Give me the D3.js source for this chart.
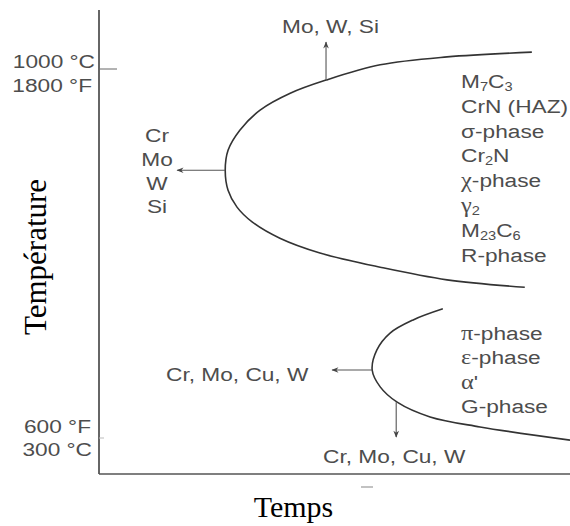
<!DOCTYPE html>
<html><head><meta charset="utf-8">
<script src="https://cdn.jsdelivr.net/npm/d3@7"></script>
<style>body{margin:0;background:#fff}svg{display:block}</style>
</head><body>
<svg id="c" width="570" height="526"></svg>
<script>
// ---- data (time in arbitrary units 0..100, temperature in °C) ----
const upperCurveTime = [91.9, 73.9, 59.7, 48.2, 40.6, 34.2, 29.9, 27.4, 26.8, 27.4, 29.3, 32.5, 38.4, 46.9, 59.7, 73.9, 90.4];
const upperCurveTemp = [1032, 1023, 1008, 979, 954, 922, 884, 846, 808, 770, 738, 710, 679, 651, 624, 600, 586];
const lowerCurveTime = [73.0, 66.7, 61.8, 59.0, 58.0, 59.7, 63.3, 70.3, 80.9, 100];
const lowerCurveTemp = [545, 524, 499, 467, 429, 397, 368, 340, 321, 296];
// arrows: [time0, temp0, time1, temp1]
const arrowsData = [[26.8, 808, 16.6, 808], [48.2, 979, 48.2, 1051], [58.0, 429, 49.5, 429], [63.1, 368, 63.1, 302]];
const tickTemps = [1000, 300];
const tickLabelsTop = ["1000 °C", "1800 °F"];
const tickLabelsBottom = ["600 °F", "300 °C"];
const upperPhases = ["M_7C_3", "CrN (HAZ)", "σ-phase", "Cr_2N", "χ-phase", "γ_2", "M_23C_6", "R-phase"];
const lowerPhases = ["π-phase", "ε-phase", "α'", "G-phase"];
const upperLeftElems = ["Cr", "Mo", "W", "Si"];
const upperTopElems = "Mo, W, Si";
const lowerLeftElems = "Cr, Mo, Cu, W";
const lowerBottomElems = "Cr, Mo, Cu, W";
const xTitle = "Temps", yTitle = "Température";

const svg = d3.select("#c");
const x = d3.scaleLinear().domain([0, 100]).range([99, 570]);
const y = d3.scaleLinear().domain([300, 1000]).range([438, 69]);
const axisTop = 10, axisBottom = 474;
const ink = "#333", txt = "#4d4d4d";
const SX = 1.22;
const sans = "'Liberation Sans', Arial, sans-serif";
const serif = "'Liberation Serif', 'Times New Roman', serif";

// axes
svg.append("line").attr("x1", x(0)).attr("x2", x(0)).attr("y1", axisTop).attr("y2", axisBottom)
  .attr("stroke", ink).attr("stroke-width", 1.5);
svg.append("line").attr("x1", x(0)).attr("x2", x(100)).attr("y1", axisBottom).attr("y2", axisBottom)
  .attr("stroke", "#555").attr("stroke-width", 1.5);
const tickLen = [18, 5];
tickTemps.forEach((t, i) => {
  svg.append("line").attr("x1", x(0)).attr("x2", x(0) + tickLen[i]).attr("y1", y(t)).attr("y2", y(t))
    .attr("stroke", i === 0 ? "#666" : "#bbb").attr("stroke-width", 1);
});
// small dash under x axis
svg.append("line").attr("x1", 361).attr("x2", 373).attr("y1", 487).attr("y2", 487).attr("stroke", "#999").attr("stroke-width", 1.2);

// rich text helper
function rich(textSel, str) {
  const re = /(_\d+)|([χγπεα])|([^_χγπεα]+)/g;
  let m, sub = false;
  while ((m = re.exec(str)) !== null) {
    if (m[1]) {
      textSel.append("tspan").attr("font-size", 12).attr("dy", 3).text(m[1].slice(1));
      sub = true;
    } else {
      const ts = textSel.append("tspan").text(m[2] || m[3]);
      if (sub) { ts.attr("dy", -3); sub = false; }
      if (m[2]) ts.attr("font-family", serif).attr("font-size", 20);
    }
  }
}
function label(px, py, str, anchor, fill) {
  const g = svg.append("g").attr("transform", `translate(${px},${py}) scale(${SX},1)`);
  const t = g.append("text").attr("font-family", sans).attr("font-size", 18.6)
    .attr("fill", fill || txt).attr("text-anchor", anchor || "start");
  rich(t, str);
  return t;
}

// tick labels
label(95, 68, tickLabelsTop[0], "end");
label(92, 92, tickLabelsTop[1], "end");
label(91, 433, tickLabelsBottom[0], "end");
label(92, 456, tickLabelsBottom[1], "end");

// curves
const line = d3.line().x(d => x(d[0])).y(d => y(d[1])).curve(d3.curveCatmullRom.alpha(0.5));
svg.append("path").datum(upperCurveTime.map((t, i) => [t, upperCurveTemp[i]]))
  .attr("d", line).attr("fill", "none").attr("stroke", ink).attr("stroke-width", 1.6);
svg.append("path").datum(lowerCurveTime.map((t, i) => [t, lowerCurveTemp[i]]))
  .attr("d", line).attr("fill", "none").attr("stroke", ink).attr("stroke-width", 1.6);

// arrows
svg.append("defs").append("marker").attr("id", "ah").attr("viewBox", "0 0 10 10")
  .attr("refX", 9).attr("refY", 5).attr("markerWidth", 9).attr("markerHeight", 7)
  .attr("markerUnits", "userSpaceOnUse").attr("orient", "auto")
  .append("path").attr("d", "M0,1 L10,5 L0,9 L3,5 Z").attr("fill", "#444");
arrowsData.forEach(a => {
  svg.append("line").attr("x1", x(a[0])).attr("y1", y(a[1])).attr("x2", x(a[2])).attr("y2", y(a[3]))
    .attr("stroke", "#555").attr("stroke-width", 1.1).attr("marker-end", "url(#ah)");
});

// element labels
upperLeftElems.forEach((s, i) => label(157, 142 + i * 23.8, s, "middle"));
label(282, 33, upperTopElems, "start");
label(166, 381, lowerLeftElems, "start");
label(323, 463, lowerBottomElems, "start");

// phase lists
upperPhases.forEach((s, i) => label(461, 88 + i * 24.8, s, "start"));
lowerPhases.forEach((s, i) => label(461, 340 + i * 24.4, s, "start"));

// axis titles
svg.append("text").attr("x", 293.5).attr("y", 517).attr("text-anchor", "middle")
  .attr("font-family", serif).attr("font-size", 30).attr("fill", "#000").text(xTitle);
svg.append("text").attr("transform", "translate(46,257) rotate(-90)").attr("text-anchor", "middle")
  .attr("font-family", serif).attr("font-size", 31).attr("fill", "#000").text(yTitle);
</script>
</body></html>
